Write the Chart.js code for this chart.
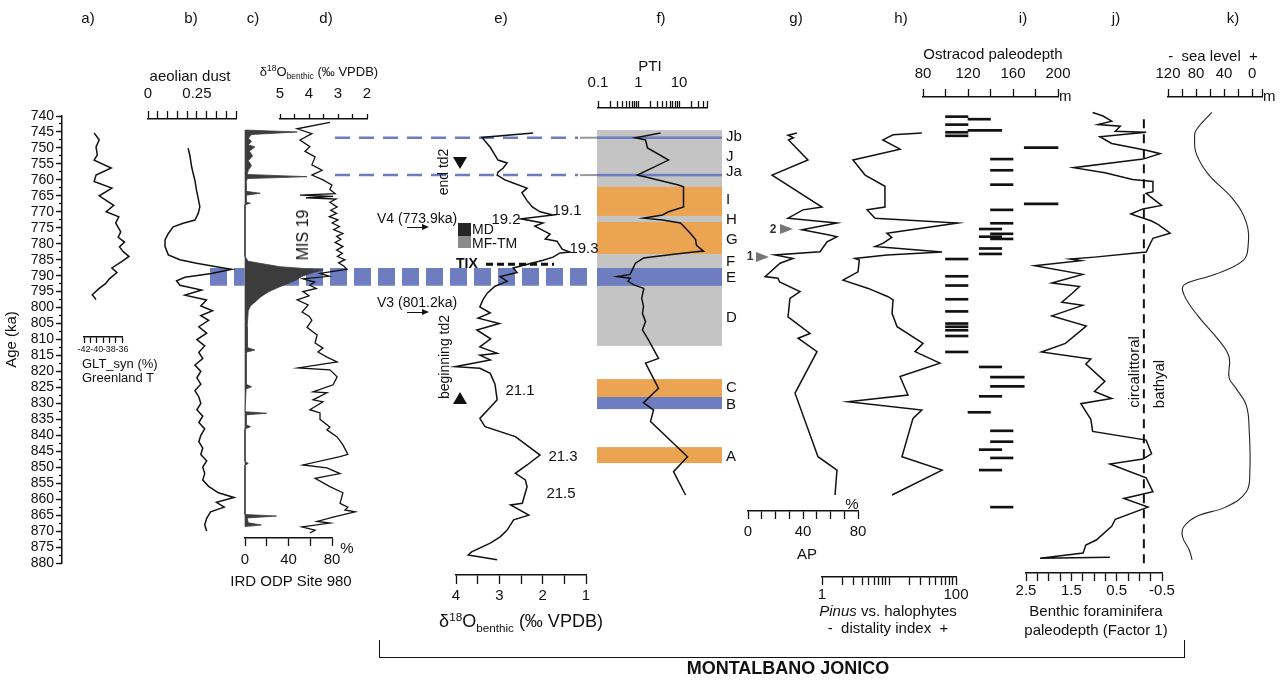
<!DOCTYPE html>
<html>
<head>
<meta charset="utf-8">
<script src="https://cdn.jsdelivr.net/npm/chart.js@4.4.1/dist/chart.umd.min.js"></script>
<style>
  html, body { margin: 0; padding: 0; background: #fff; }
  #stage { position: relative; width: 1282px; height: 680px; overflow: hidden;
           font-family: 'Liberation Sans', Arial, sans-serif; color: #111; }
  #stage canvas { position: absolute; left: 0; top: 0; }
  .t { position: absolute; white-space: nowrap; font-size: 15px; line-height: 1; transform: translate(-50%, -50%); }
  .l { transform: translate(0, -50%); }
  .rot { transform: translate(-50%, -50%) rotate(-90deg); }
  sup { font-size: 65%; vertical-align: 0.55em; line-height: 0; }
  sub { font-size: 65%; vertical-align: -0.45em; line-height: 0; }
</style>
</head>
<body>
<div id="stage"></div>
<script>
// ---------- data (ages in ka) ----------
// a) GLT_syn, Greenland T
const gltAge = [745.3, 747.5, 749.7, 752.2, 753.8, 756.3, 758.5, 760.5, 762.6, 765, 768, 770, 771.6, 773.5, 776.3, 778, 779.5, 781, 782.5, 784, 785.5, 787.6, 789, 791, 792.5, 794, 796, 797.5];
const gltVal = [-40.4, -39.6, -40.1, -39.9, -40.4, -37.7, -40.1, -40.4, -37.6, -39.6, -37.3, -38.5, -36.5, -37.0, -36.2, -36.6, -35.6, -36.4, -35.8, -34.9, -36.0, -37.6, -36.8, -38.0, -38.6, -39.6, -40.7, -40.1];

// b) aeolian dust
const dustAge = [750.1, 752.3, 755.9, 758, 760.2, 763.3, 765.9, 768.4, 770.5, 772.6, 773.6, 774.7, 776.8, 778.8, 780.9, 783.5, 785, 786.1, 787.2, 788, 789.3, 790.5, 791.6, 793, 794.5, 796.1, 797.6,
  799.5, 801, 802.5, 804, 806, 808, 810, 812, 814, 816, 818, 820, 822, 824, 826, 828, 830, 832, 834, 836, 838, 840, 842, 844, 846, 848, 850, 852, 854, 856, 858, 859.5, 861, 862.5, 864, 866, 868, 870];
const dustVal = [0.205, 0.214, 0.223, 0.231, 0.240, 0.248, 0.257, 0.265, 0.257, 0.240, 0.180, 0.129, 0.104, 0.087, 0.087, 0.104, 0.163, 0.248, 0.350, 0.427, 0.325, 0.189, 0.146, 0.163, 0.274, 0.189, 0.299,
  0.27, 0.33, 0.27, 0.31, 0.26, 0.30, 0.25, 0.29, 0.26, 0.28, 0.24, 0.27, 0.25, 0.27, 0.24, 0.26, 0.27, 0.25, 0.28, 0.26, 0.29, 0.27, 0.26, 0.28, 0.27, 0.30, 0.28, 0.29, 0.28, 0.31, 0.36, 0.44, 0.35, 0.39, 0.32, 0.30, 0.29, 0.30];

// c) IRD ODP Site 980 (%)
const irdAge = [744.4, 745.0, 745.8, 747.0, 748.0, 749.0, 749.7, 751.0, 752.5, 754.0, 755.5, 757.0, 758.3, 759.0, 759.6, 761.0, 763.6, 764.2, 764.8, 767.0, 767.3, 767.8, 784.0, 785.5, 787.2, 788.2, 789.3, 790.3, 791.4, 793.5, 795.0, 796.5, 798.0, 799.5, 801.0, 806.0, 810.0, 812.5, 813.3, 814.0, 824.0, 824.8, 825.5, 832.6, 833.1, 833.6, 836.7, 837.3, 838.0, 848.2, 848.8, 849.4, 864.8, 865.3, 865.9, 867.4, 868.1, 868.6];
const irdVal = [0, 48, 6, 3, 6, 3, 9, 4, 7, 3, 6, 3, 2, 57, 2, 1, 1, 14, 1, 1, 5, 0, 0, 3, 32, 72, 60, 52, 47, 32, 22, 15, 10, 5, 3, 2, 2, 2, 9, 1, 1, 6, 1, 0, 20, 1, 1, 5, 0, 0, 3, 0, 0, 29, 2, 3, 15, 0];

// d) d18O benthic, ODP 980
const d980Age = [742.0, 744.0, 745.5, 747.5, 749.6, 751.1, 752.8, 755.3, 757.0, 758.5, 760.0, 761.6, 763.0, 764.3, 764.8, 765.2, 765.6, 766.0, 767.0, 768.5, 769.5, 770.5, 771.5, 772.5, 773.5, 774.6, 775.6, 776.8, 777.7, 778.6, 779.6, 780.9, 782.0, 783.0, 784.0, 785.0, 786.0, 787.0, 788.0, 789.3, 790.2, 791.0, 792.0, 793.0, 794.0, 795.0, 796.3, 797.6, 799.2, 801.4, 802.7, 804.0, 806.2, 808.6, 811.1, 812.7, 813.9, 815.5, 817.0, 818.9, 819.5, 821.7, 824.2, 826.4, 826.7, 828.9, 829.5, 832.0, 833.0, 835.0, 837.4, 838.3, 840.5, 843.0, 846.0, 846.7, 849.3, 850.2, 852.0, 853.5, 856.1, 858.0, 861.3, 862.5, 863.4, 864.0, 865.6, 867.0, 867.5, 868.7, 869.7, 870.6];
const d980Val = [3.28, 4.41, 3.90, 4.31, 3.97, 4.14, 3.79, 3.90, 3.55, 3.90, 3.52, 3.21, 3.28, 3.10, 4.31, 3.17, 4.10, 3.07, 3.28, 3.03, 3.25, 3.05, 3.30, 3.00, 3.20, 2.95, 3.15, 2.83, 3.05, 2.90, 3.10, 2.83, 3.05, 2.85, 3.02, 2.76, 2.98, 2.80, 2.69, 3.62, 3.30, 4.21, 3.80, 3.97, 3.75, 4.21, 4.00, 4.41, 4.03, 4.24, 4.00, 3.90, 4.07, 3.72, 3.79, 3.52, 3.69, 3.38, 3.03, 4.37, 3.28, 3.03, 3.17, 3.86, 3.38, 3.86, 3.52, 3.97, 3.62, 3.62, 3.28, 3.38, 3.03, 2.83, 2.66, 2.93, 4.21, 3.38, 2.93, 3.79, 3.28, 2.83, 2.93, 2.66, 2.76, 2.41, 3.17, 3.72, 3.28, 4.24, 3.79, 3.97];

// e) d18O benthic, Montalbano Jonico
const dMJAge = [745.3, 746.7, 749.8, 753.8, 754.7, 756.3, 757.6, 758.5, 760.0, 761.0, 762.6, 764.0, 766.5, 768.5, 770.0, 771.0, 771.8, 772.2, 773.5, 774.5, 777.0, 778.5, 779.2, 781.7, 782.6, 782.9, 784.2, 785.2, 787.6, 789.0, 790.3, 791.8, 793.3, 795.5, 797.6, 799.8, 801.7, 803.3, 805.0, 807.0, 809.8, 812.3, 814.3, 814.9, 816.4, 818.5, 819.0, 820.6, 824.0, 828.9, 830.5, 834.7, 837.3, 840.4, 846.2, 849.3, 851.9, 854.0, 856.1, 861.3, 861.8, 865.0, 866.5, 869.7, 871.8, 873.8, 876.5, 877.5, 879.0];
const dMJVal = [2.22, 3.40, 3.21, 3.03, 2.82, 2.91, 3.03, 3.05, 2.87, 2.68, 2.36, 2.48, 2.36, 2.24, 2.06, 1.76, 2.24, 2.50, 1.99, 2.18, 1.83, 1.94, 1.67, 1.55, 1.37, 1.60, 1.76, 1.99, 2.68, 2.59, 2.98, 2.82, 3.10, 3.28, 3.38, 3.45, 3.21, 3.49, 3.00, 3.52, 3.20, 3.45, 3.05, 3.45, 3.21, 4.02, 3.45, 3.21, 3.10, 3.05, 3.16, 3.45, 3.33, 2.63, 2.06, 2.36, 2.63, 2.40, 2.36, 2.47, 2.74, 2.32, 2.67, 2.82, 2.98, 3.21, 3.64, 3.72, 3.05];

// f) PTI and lithological intervals
const ptiAge = [745.3, 746.8, 747.5, 750.0, 753.8, 758.5, 761.6, 762.2, 768.5, 770.0, 771.0, 772.0, 772.6, 773.5, 776.8, 778.7, 780.5, 782.3, 782.6, 783.5, 784.5, 786.1, 788.2, 789.6, 790.3, 790.8, 791.8, 792.9, 794.0, 797.1, 799.7, 801.8, 804.4, 807.0, 810.2, 815.9, 817.4, 825.3, 829.8, 832.1, 835.7, 846.7, 851.4, 858.7];
const ptiVal = [3.49, 0.84, 1.49, 1.67, 5.50, 0.94, 9.73, 12.9, 12.9, 5.50, 3.91, 1.33, 3.91, 10.9, 19.2, 25.5, 27.0, 40.2, 22.8, 5.2, 1.33, 0.84, 0.70, 0.62, 0.30, 0.63, 0.55, 0.77, 1.35, 1.20, 1.33, 1.25, 1.49, 1.25, 1.77, 3.12, 1.49, 3.12, 1.33, 2.35, 1.98, 16.2, 7.3, 14.5];
const zoneTop = 744.4, zoneBase = 812.0;
const bandFrom = [746.4, 758.1, 762.2, 773.2, 787.6, 822.4, 828.0, 843.7];
const bandTo   = [747.2, 758.9, 771.3, 783.2, 793.2, 828.0, 831.8, 848.7];
const bandKind = ['b', 'b', 'o', 'o', 'b', 'o', 'b', 'o'];
const zoneName = ['Jb', 'J', 'Ja', 'I', 'H', 'G', 'F', 'E', 'D', 'C', 'B', 'A'];
const zoneNameAge = [746.6, 752.8, 757.5, 766.3, 772.6, 778.8, 785.7, 790.7, 803.3, 825.2, 830.5, 846.8];
const tixAge = 786.4;

// g) AP (%)
const apAge = [745.3, 746.0, 746.8, 747.5, 753.8, 758.5, 768.5, 769.4, 772.0, 773.5, 775.6, 777.2, 777.8, 779.4, 782.5, 783.5, 784.6, 786.1, 790.3, 790.8, 792.0, 795.0, 797.1, 802.9, 808.1, 809.6, 813.8, 826.8, 846.7, 850.9, 858.7];
const apVal = [35.6, 29.1, 33.0, 29.5, 43.6, 17.5, 53.8, 40.0, 29.1, 64.7, 39.3, 58.2, 64.7, 57.5, 52.4, 19.6, 32.7, 23.3, 12.4, 21.8, 23.0, 37.8, 30.5, 29.1, 45.1, 36.4, 50.2, 34.2, 50.9, 64.7, 63.3];

// h) Pinus vs. halophytes distality index
const distAge = [745.3, 745.9, 747.5, 750.4, 753.8, 758.5, 762.0, 768.5, 769.4, 772.0, 773.5, 776.7, 778.0, 779.9, 780.9, 782.6, 783.5, 784.6, 785.1, 788.8, 791.4, 794.0, 796.6, 797.6, 801.8, 806.0, 811.2, 813.8, 817.4, 821.6, 827.4, 829.5, 832.1, 834.7, 846.7, 850.9, 858.7];
const distVal = [30.9, 11.5, 8.1, 14.6, 2.9, 4.4, 8.7, 8.7, 4.7, 6.2, 106, 9.3, 11.0, 8.1, 6.2, 61.9, 9.3, 3.1, 3.6, 3.45, 2.06, 4.9, 9.7, 11.5, 11.1, 13.2, 32.2, 24.4, 57.6, 14.6, 19.2, 2.45, 30.9, 22.8, 15.6, 61.9, 11.1];

// i) ostracod paleodepth ranges (m)
const ostAge = [740.2, 741.0, 742.7, 744.5, 745.1, 746.2, 749.9, 753.5, 757.0, 761.5, 767.5, 769.4, 773.6, 775.4, 776.9, 777.8, 778.5, 781.5, 783.2, 784.8, 790.2, 793.1, 797.4, 801.2, 805.0, 806.0, 807.1, 808.9, 813.9, 818.6, 821.8, 824.7, 827.8, 832.8, 838.6, 842.0, 844.5, 847.1, 850.9, 862.5];
const ostMin = [100, 120, 100, 120, 100, 100, 170, 140, 140, 140, 170, 140, 140, 130, 140, 130, 140, 130, 130, 100, 100, 100, 100, 100, 100, 100, 100, 100, 100, 130, 140, 140, 130, 120, 140, 140, 130, 140, 130, 140];
const ostMax = [120, 140, 120, 150, 120, 120, 200, 160, 160, 160, 200, 160, 160, 150, 160, 150, 160, 150, 150, 120, 120, 120, 120, 120, 120, 120, 120, 120, 120, 150, 170, 170, 150, 140, 160, 160, 150, 160, 150, 160];

// j) benthic foraminifera paleodepth (Factor 1)
const forAge = [738.9, 740.0, 741.6, 742.7, 743.2, 744.8, 745.1, 746.5, 748.6, 750.7, 751.8, 753.5, 756.2, 757.8, 759.9, 760.5, 763.7, 764.2, 768.0, 769.1, 770.7, 772.9, 774.0, 776.7, 778.3, 782.6, 784.2, 784.8, 785.3, 786.9, 789.6, 792.3, 793.4, 795.5, 798.3, 799.3, 802.6, 805.8, 811.2, 813.9, 816.1, 817.7, 823.1, 826.3, 828.5, 830.1, 835.0, 838.8, 841.5, 845.8, 847.4, 849.0, 853.3, 857.7, 859.8, 862.5, 866.3, 868.5, 872.8, 874.4, 876.9, 878.5, 878.2];
const forVal = [1.03, 0.80, 0.61, 0.91, 0.42, 0.53, -0.15, 0.87, 0.61, -0.15, -0.46, -0.08, 1.45, 0.76, 0.15, -0.30, -0.30, -0.15, -0.49, -0.08, 0.19, -0.27, -0.42, -0.68, -0.30, -0.15, 0.99, 1.52, 1.29, 2.31, 1.25, 1.93, 1.32, 1.48, 1.71, 1.25, 1.93, 1.17, 1.63, 2.16, 1.07, 1.18, 0.76, 0.99, 0.61, 1.29, 1.07, 1.03, -0.15, -0.27, -0.08, 0.65, -0.15, -0.30, 0.34, -0.19, 0.53, 0.61, 0.95, 1.18, 1.24, 2.19, 0.65];
const shelfBreak = -0.1;   // circalittoral / bathyal boundary

// k) sea level (m)
const seaAge = [738.9, 744.3, 746.5, 751.8, 758.3, 765.9, 773.4, 781.0, 785.3, 789.6, 792.9, 796.1, 802.6, 810.2, 815.5, 822.0, 825.3, 830.7, 838.2, 851.2, 857.7, 862.5, 865.2, 868.5, 871.7, 876.0, 879.0];
const seaVal = [57.6, 79.7, 82.1, 79.7, 62.4, 28.0, 8.3, 5.9, 13.1, 52.6, 97.0, 97.0, 77.3, 47.7, 32.9, 32.9, 23.0, 8.3, 4.3, 3.3, 8.3, 37.9, 77.3, 97.0, 99.4, 89.6, 85.7];

// tick positions and labels
const ageTicks = [740, 745, 750, 755, 760, 765, 770, 775, 780, 785, 790, 795, 800, 805, 810, 815, 820, 825, 830, 835, 840, 845, 850, 855, 860, 865, 870, 875, 880];
const gltTicks = [-42, -41, -40, -39, -38, -37, -36], gltLabels = [-42, -40, -38, -36];
const dustTicks = [0, 0.05, 0.1, 0.15, 0.2, 0.25, 0.3, 0.35, 0.4, 0.45], dustLabels = [0, 0.25];
const irdTicks = [0, 20, 40, 60, 80], irdLabels = [0, 40, 80];
const d980Ticks = [2, 2.5, 3, 3.5, 4, 4.5, 5], d980Labels = [2, 3, 4, 5];
const dMJTicks = [1, 1.5, 2, 2.5, 3, 3.5, 4], dMJLabels = [1, 2, 3, 4];
const ptiTicks = [0.1, 0.2, 0.3, 0.4, 0.5, 0.6, 0.7, 0.8, 0.9, 1, 2, 3, 4, 5, 6, 7, 8, 9, 10, 20, 30, 40, 49], ptiLabels = [0.1, 1, 10];
const apTicks = [0, 10, 20, 30, 40, 50, 60, 70, 80], apLabels = [0, 40, 80];
const distTicks = [1, 2, 3, 4, 5, 6, 7, 8, 9, 10, 20, 30, 40, 50, 60, 70, 80, 90, 100], distLabels = [1, 100];
const ostTicks = [80, 100, 120, 140, 160, 180, 200], ostLabels = [80, 120, 160, 200];
const forTicks = [-0.5, -0.25, 0, 0.25, 0.5, 0.75, 1, 1.25, 1.5, 1.75, 2, 2.25, 2.5], forLabels = [-0.5, 0.5, 1.5, 2.5];
const seaTicks = [-14, 0, 20, 40, 60, 80, 100, 120], seaLabels = [0, 40, 80, 120];

// ---------- layout ----------
const W = 1282, H = 680;
const Y740 = 116, Y880 = 563;          // pixel rows of the 740 and 880 ka ticks
const INK = '#111', BLUE = '#6e7dbf', ORANGE = '#eba552', GRAY = '#c4c4c4';
const stage = document.getElementById('stage');

Chart.defaults.font.family = "'Liberation Sans', Arial, sans-serif";
Chart.defaults.font.size = 15;
Chart.defaults.color = INK;
Chart.defaults.animation = false;
Chart.defaults.responsive = false;
Chart.defaults.plugins.legend.display = false;
Chart.defaults.plugins.tooltip.enabled = false;

function ageAt(py) { return 740 + (py - Y740) * 140 / (Y880 - Y740); }

function addCanvas() {
  const c = document.createElement('canvas');
  c.width = W; c.height = H;
  stage.appendChild(c);
  return c.getContext('2d');
}

function tickText(v, labels) {
  const hit = labels.find(l => Math.abs(l - v) < 1e-6 * Math.max(1, Math.abs(l)));
  return hit === undefined ? '' : String(hit);
}

function series(ages, vals) { return ages.map((a, i) => ({x: vals[i], y: a})); }

function line(data, extra) {
  return Object.assign({data, borderColor: INK, borderWidth: 1.5, pointRadius: 0, fill: false, clip: false, tension: 0}, extra || {});
}

// one chart per panel, all canvases stacked on the same page area
function makePanel(p) {
  const AXH = 60;
  const isTop = p.side === 'top';
  const areaTop = isTop ? p.line : p.from;
  const areaBottom = isTop ? p.to : p.line;
  return new Chart(addCanvas(), {
    type: p.type || 'line',
    data: {datasets: p.datasets},
    options: {
      indexAxis: p.indexAxis || 'x',
      layout: {padding: {
        left: p.left, right: W - p.right,
        top: isTop ? p.line - AXH : p.from,
        bottom: isTop ? H - p.to : H - p.line - AXH
      }},
      scales: {
        x: {
          type: p.log ? 'logarithmic' : 'linear',
          position: p.side, min: p.min, max: p.max, reverse: !!p.reverse,
          border: {display: true, color: INK, width: 1.4},
          grid: {drawOnChartArea: false, drawTicks: true, tickLength: p.tick, tickWidth: 1.3, color: INK},
          ticks: {autoSkip: false, maxRotation: 0, minRotation: 0, padding: p.pad, color: INK,
                  font: {size: p.font || 15}, callback: v => tickText(v, p.labels)},
          afterBuildTicks: s => { s.ticks = p.ticks.map(v => ({value: v})); },
          afterFit: s => { s.height = AXH; s.paddingLeft = 0; s.paddingRight = 0; }
        },
        y: {type: 'linear', display: false, reverse: true, offset: false,
            min: ageAt(areaTop), max: ageAt(areaBottom)}
      }
    },
    plugins: p.plugins || []
  });
}

// ---------- underlay: lithological intervals and correlation lines ----------
const zonePlugin = {
  id: 'zones',
  afterDraw(chart) {
    const ctx = chart.ctx;
    const py = v => chart.scales.y.getPixelForValue(v);
    const boxL = 597, boxW = 125;
    ctx.save();
    ctx.fillStyle = GRAY;
    ctx.fillRect(boxL, py(zoneTop), boxW, py(zoneBase) - py(zoneTop));
    bandFrom.forEach((a, i) => {
      ctx.fillStyle = bandKind[i] === 'o' ? ORANGE : BLUE;
      ctx.fillRect(boxL, py(a), boxW, py(bandTo[i]) - py(a));
    });
    // interval E carried across panels b-e
    const e0 = py(bandFrom[4]), e1 = py(bandTo[4]);
    ctx.strokeStyle = BLUE;
    ctx.lineWidth = e1 - e0;
    ctx.setLineDash([17, 7]);
    ctx.beginPath(); ctx.moveTo(210, (e0 + e1) / 2); ctx.lineTo(592, (e0 + e1) / 2); ctx.stroke();
    // Jb and Ja tie lines
    [0, 1].forEach(i => {
      const y = py((bandFrom[i] + bandTo[i]) / 2);
      ctx.setLineDash([15, 9]);
      ctx.strokeStyle = BLUE; ctx.lineWidth = 2.5;
      ctx.beginPath(); ctx.moveTo(335, y); ctx.lineTo(578, y); ctx.stroke();
      ctx.setLineDash([]);
      ctx.strokeStyle = '#999'; ctx.lineWidth = 2;
      ctx.beginPath(); ctx.moveTo(580, y); ctx.lineTo(boxL, y); ctx.stroke();
    });
    // Termination IX
    ctx.setLineDash([7, 4]);
    ctx.strokeStyle = INK; ctx.lineWidth = 3;
    ctx.beginPath(); ctx.moveTo(486, py(tixAge)); ctx.lineTo(554, py(tixAge)); ctx.stroke();
    ctx.setLineDash([]);
    ctx.fillStyle = INK;
    ctx.font = "15px 'Liberation Sans', Arial, sans-serif";
    ctx.textBaseline = 'middle';
    zoneName.forEach((n, i) => ctx.fillText(n, 726, py(zoneNameAge[i])));
    ctx.restore();
  }
};
new Chart(addCanvas(), {
  type: 'line',
  data: {datasets: []},
  options: {
    layout: {padding: {left: 0, right: 0, top: Y740, bottom: H - Y880}},
    scales: {
      x: {display: false, min: 0, max: W},
      y: {display: false, reverse: true, min: 740, max: 880}
    }
  },
  plugins: [zonePlugin]
});

// ---------- age axis ----------
function ageAxis(ticks, tickLength, showLabels) {
  new Chart(addCanvas(), {
    type: 'line',
    data: {datasets: []},
    options: {
      layout: {padding: {left: 0, right: W - 70, top: Y740, bottom: H - Y880}},
      scales: {
        x: {display: false, min: 0, max: 1},
        y: {
          type: 'linear', position: 'left', reverse: true, min: 740, max: 880,
          border: {display: showLabels, color: INK, width: 1.5},
          grid: {drawOnChartArea: false, drawTicks: true, tickLength, tickWidth: 1.3, color: INK},
          ticks: {display: showLabels, autoSkip: false, padding: 2, font: {size: 14}, color: INK},
          title: {display: showLabels, text: 'Age (ka)', font: {size: 15}, color: INK, padding: {top: 3, bottom: 0}},
          afterBuildTicks: s => { s.ticks = ticks.map(v => ({value: v})); },
          afterFit: s => { s.width = 62; }
        }
      }
    }
  });
}
ageAxis(Array.from({length: 57}, (_, i) => 740 + i * 2.5), 3, false);
ageAxis(ageTicks, 6, true);

// ---------- panels ----------
makePanel({left: 84, right: 122, side: 'bottom', line: 337, from: 100, min: -42, max: -36,
  ticks: gltTicks, labels: gltLabels, tick: 6, pad: 1, font: 9,
  datasets: [line(series(gltAge, gltVal))]});

makePanel({left: 148, right: 236, side: 'top', line: 119, to: 575, min: 0, max: 0.45,
  ticks: dustTicks, labels: dustLabels, tick: 8, pad: 8,
  datasets: [line(series(dustAge, dustVal))]});

makePanel({left: 245, right: 332, side: 'bottom', line: 538, from: 100, min: 0, max: 80,
  ticks: irdTicks, labels: irdLabels, tick: 8, pad: 5, indexAxis: 'y',
  datasets: [
    line(series(irdAge, irdVal), {fill: 'origin', backgroundColor: '#3c3c3c', borderColor: '#3c3c3c', borderWidth: 0.8}),
    line([{x: 0, y: irdAge[0]}, {x: 0, y: irdAge[irdAge.length - 1]}], {borderColor: '#999', borderWidth: 1.2})
  ]});

makePanel({left: 280, right: 367, side: 'top', line: 119, to: 575, min: 2, max: 5, reverse: true,
  ticks: d980Ticks, labels: d980Labels, tick: 5, pad: 11,
  datasets: [line(series(d980Age, d980Val), {borderWidth: 1.3})]});

makePanel({left: 456, right: 586, side: 'bottom', line: 575, from: 100, min: 1, max: 4, reverse: true,
  ticks: dMJTicks, labels: dMJLabels, tick: 9, pad: 3,
  datasets: [line(series(dMJAge, dMJVal))]});

makePanel({left: 598, right: 707, side: 'top', line: 108, to: 575, min: 0.1, max: 49, log: true,
  ticks: ptiTicks, labels: ptiLabels, tick: 7, pad: 9,
  datasets: [line(series(ptiAge, ptiVal))]});

makePanel({left: 748, right: 858, side: 'bottom', line: 511, from: 100, min: 0, max: 80,
  ticks: apTicks, labels: apLabels, tick: 8, pad: 4,
  datasets: [line(series(apAge, apVal))]});

makePanel({left: 822, right: 956, side: 'bottom', line: 577, from: 100, min: 1, max: 100, log: true,
  ticks: distTicks, labels: distLabels, tick: 8, pad: 1,
  datasets: [line(series(distAge, distVal))]});

makePanel({left: 923, right: 1058, side: 'top', line: 97, to: 575, min: 80, max: 200,
  ticks: ostTicks, labels: ostLabels, tick: 8, pad: 6, type: 'bar', indexAxis: 'y',
  datasets: [{data: ostAge.map((a, i) => ({y: a, x: [ostMin[i], ostMax[i]]})),
              backgroundColor: INK, barThickness: 2, grouped: false, clip: false}]});

makePanel({left: 1026, right: 1162, side: 'bottom', line: 573, from: 100, min: -0.5, max: 2.5, reverse: true,
  ticks: forTicks, labels: forLabels, tick: 8, pad: 1,
  datasets: [
    line(series(forAge, forVal)),
    line([{x: shelfBreak, y: 741}, {x: shelfBreak, y: 880.5}], {borderDash: [9, 6], borderWidth: 2})
  ]});

makePanel({left: 1168, right: 1262, side: 'top', line: 97, to: 575, min: -14, max: 120, reverse: true,
  ticks: seaTicks, labels: seaLabels, tick: 8, pad: 6,
  datasets: [line(series(seaAge, seaVal), {borderWidth: 1.1, borderColor: '#222', tension: 0.4})]});

// ---------- text ----------
function txt(html, x, y, cls, css) {
  const d = document.createElement('div');
  d.className = 't ' + (cls || '');
  d.innerHTML = html;
  d.style.left = x + 'px';
  d.style.top = y + 'px';
  if (css) d.style.cssText += css;
  stage.appendChild(d);
}
function tri(x, y, dir, w, h, color) {
  const d = document.createElement('div');
  let css = `position:absolute;width:0;height:0;left:${x - w / 2}px;top:${y - h / 2}px;`;
  if (dir === 'down') css += `border-left:${w / 2}px solid transparent;border-right:${w / 2}px solid transparent;border-top:${h}px solid ${color};`;
  if (dir === 'up') css += `border-left:${w / 2}px solid transparent;border-right:${w / 2}px solid transparent;border-bottom:${h}px solid ${color};`;
  if (dir === 'right') css += `border-top:${h / 2}px solid transparent;border-bottom:${h / 2}px solid transparent;border-left:${w}px solid ${color};`;
  d.style.cssText = css;
  stage.appendChild(d);
}
function box(x, y, w, h, css) {
  const d = document.createElement('div');
  d.style.cssText = `position:absolute;left:${x}px;top:${y}px;width:${w}px;height:${h}px;` + css;
  stage.appendChild(d);
}

[['a)', 88], ['b)', 191], ['c)', 253], ['d)', 326], ['e)', 501], ['f)', 661], ['g)', 796],
 ['h)', 901], ['i)', 1023], ['j)', 1116], ['k)', 1233]].forEach(([s, x]) => txt(s, x, 17));

txt('GLT_syn (%)', 82, 363, 'l', 'font-size:13px');
txt('Greenland T', 82, 377, 'l', 'font-size:13px');
txt('aeolian dust', 190, 75);
txt('δ<sup>18</sup>O<sub>benthic</sub> (‰ VPDB)', 319, 71, '', 'font-size:13px');
txt('MIS 19', 303, 235, 'rot', 'font-size:16px');
txt('IRD ODP Site 980', 291, 580);
txt('%', 347, 547);
txt('PTI', 650, 65);
txt('δ<sup>18</sup>O<sub>benthic</sub> (‰ VPDB)', 521, 621, '', 'font-size:18px');
txt('AP', 807, 553);
txt('%', 852, 503);
txt('<i>Pinus</i> vs. halophytes', 888, 610);
txt('-&nbsp; distality index &nbsp;+', 888, 627);
txt('Ostracod paleodepth', 993, 53);
txt('m', 1059, 95, 'l');
txt('Benthic foraminifera', 1096, 610);
txt('paleodepth (Factor 1)', 1096, 629);
txt('circalittoral', 1133, 372, 'rot');
txt('bathyal', 1158, 384, 'rot');
txt('-&nbsp; sea level &nbsp;+', 1213, 55);
txt('m', 1263, 95, 'l');
txt('MONTALBANO JONICO', 788, 668, '', 'font-size:18px;font-weight:bold');
box(379, 640, 804, 17, 'border-left:1px solid #111;border-right:1px solid #111;border-bottom:1px solid #111;');

// panel e annotations
txt('end td2', 443, 172, 'rot', 'font-size:14px');
tri(460, 163, 'down', 15, 12, INK);
txt('V4 (773.9ka)', 377, 218, 'l', 'font-size:14px');
box(407, 227, 16, 0, 'border-top:1px solid #111;');
tri(425, 227, 'right', 7, 7, INK);
box(458, 223, 13, 13, 'background:#262626;');
box(458, 236, 13, 12, 'background:#8a8a8a;');
txt('MD', 472, 229, 'l', 'font-size:14px');
txt('MF-TM', 472, 243, 'l', 'font-size:14px');
txt('TIX', 456, 263, 'l', 'font-size:14px;font-weight:bold');
txt('V3 (801.2ka)', 377, 302, 'l', 'font-size:14px');
box(407, 312, 16, 0, 'border-top:1px solid #111;');
tri(425, 312, 'right', 7, 7, INK);
txt('beginning td2', 444, 357, 'rot', 'font-size:14px');
tri(460, 398, 'up', 15, 12, INK);
txt('19.2', 506, 218);
txt('19.1', 567, 209);
txt('19.3', 584, 247);
txt('21.1', 520, 389);
txt('21.3', 563, 455);
txt('21.5', 561, 492);

// panel g markers
txt('2', 773, 229, '', 'font-size:12px;font-weight:bold;color:#333');
tri(786, 229, 'right', 13, 10, '#777');
txt('1', 750, 256, '', 'font-size:12px;font-weight:bold;color:#333');
tri(762, 257, 'right', 13, 10, '#777');
</script>
</body>
</html>
